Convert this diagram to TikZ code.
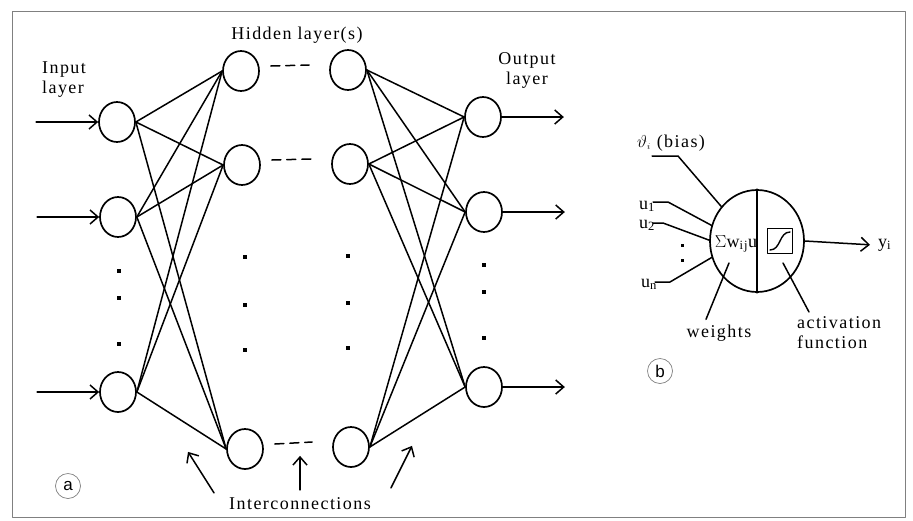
\documentclass[tikz,border=0pt]{standalone}
\usepackage{fontspec}
\setmainfont{Liberation Serif}[LetterSpace=8]
\newfontfamily\tagfont{Liberation Sans}
\usetikzlibrary{arrows.meta,shapes.geometric,calc}
\tikzset{
	unit/.style={draw,ellipse,line width=1.7pt,inner sep=0pt,minimum width=36pt,minimum height=40pt},
	edge/.style={line width=1.5pt},
	lbl/.style={inner sep=0pt,font=\fontsize{18}{20}\selectfont},
	tag/.style={draw=gray,circle,line width=0.7pt,inner sep=0pt,minimum size=25pt,font=\tagfont\fontsize{17}{17}\selectfont},
	hdots/.style={line width=1.5pt,dash pattern=on 9pt off 6pt}
}
\begin{document}
\begin{tikzpicture}[>={Straight Barb[length=8pt,width=14pt]},x=1pt,y=-1pt,line join=round,line cap=round]
		\useasboundingbox (0,0) rectangle (913,520);
		\draw[gray,line width=1pt] (12,11) rectangle (905,517);
		% (a) the network
		\node[unit] (i1) at (117,122) {}; \node[unit] (i2) at (118,217) {}; \node[unit] (i3) at (118,392) {};
		\node[unit] (h1) at (241,71) {}; \node[unit] (h2) at (242,165) {}; \node[unit] (h3) at (245,449) {};
		\node[unit] (k1) at (348,70) {}; \node[unit] (k2) at (350,164) {}; \node[unit] (k3) at (351,447) {};
		\node[unit] (o1) at (483,117) {}; \node[unit] (o2) at (484,212) {}; \node[unit] (o3) at (484,387) {};
		\foreach \i in {1,2,3} \foreach \j in {1,2,3} {
			\draw[edge] (i\i.east) -- (h\j.west);
			\draw[edge] (k\i.east) -- (o\j.west);
		}
		\foreach \n in {1,2,3} {
			\draw[edge,<-] (i\n.west) -- ++(-62,0);
			\draw[edge,->] (o\n.east) -- ++(62,0);
			\draw[hdots] ([shift={(11pt,5pt)}]h\n.east) -- ([shift={(-20pt,5pt)}]k\n.west);
		}
		\foreach \x/\y in {119/271,119/298,119/344,245/257,245/305,245/350,348/256,348/303,348/348,484/265,484/292,484/338}
		\fill (\x-2.2,\y-2.2) rectangle ++(4.4,4.4);
		\node[lbl,anchor=north west,align=left] (inl) at (42,62) {Input\\layer};
		\node[lbl,anchor=base] (hid) at (297,39) {Hidden layer(s)};
		\node[lbl,anchor=north,align=center] (outl) at (527,52) {Output\\layer};
		\node[lbl,anchor=base] (ic) at (300,509) {Interconnections};
		\draw[edge,->] ([shift={(-15pt,4pt)}]ic.north west) -- ++(-26,-41);
		\draw[edge,->] ([yshift=7pt]ic.north) -- ++(0,-34);
		\draw[edge,->] ([shift={(20pt,9pt)}]ic.north east) -- ++(21,-42);
		\node[tag] (ta) at (68,486) {a};
		% (b) one neuron
		\node[draw,ellipse,line width=1.7pt,minimum width=94pt,minimum height=102pt] (n) at (757,241) {};
		\draw[line width=1.5pt] (n.north) -- (n.south);
		\node[lbl,anchor=base] (sum) at (736,247) {$\Sigma$w\textsubscript{ij}u};
		\node[draw,line width=1.4pt,minimum size=25pt,inner sep=0pt] (sg) at (780,241) {};
		\draw[line width=1.4pt] ([shift={(-10pt,-9pt)}]sg.center) .. controls ([shift={(1pt,-9pt)}]sg.center) and ([shift={(-1pt,9pt)}]sg.center) .. ([shift={(10pt,9pt)}]sg.center);
		\node[lbl,anchor=base west] (bias) at (637,147) {$\vartheta_{\scriptscriptstyle i}$ (bias)};
		\node[lbl,anchor=base west] (u1) at (639,209) {u\textsubscript{1}};
		\node[lbl,anchor=base west] (u2) at (639,228) {u\textsubscript{2}};
		\node[lbl,anchor=base west] (un) at (641,287) {u\textsubscript{n}};
		\coordinate (bw) at (652,156); \coordinate (w1) at (653,202);
		\coordinate (w2) at (653,223); \coordinate (wn) at (655,282);
		\draw[edge] (bw) -- (678,156) -- (n.136);
		\draw[edge] (w1) -- (668,202) -- (n.161);
		\draw[edge] (w2) -- (663,223) -- (n.179);
		\draw[edge] (wn) -- (670,282) -- (n.200);
		\fill (680.5,243.5) rectangle ++(3,3); \fill (680.5,258.5) rectangle ++(3,3);
		\node[lbl,anchor=base west] (yi) at (878,247) {y\textsubscript{i}};
		\draw[edge,->] (n.east) -- ([xshift=-8pt]yi.west);
		\node[lbl,anchor=base] (wt) at (719,337) {weights};
		\node[lbl,anchor=north west,align=left] (act) at (797,316) {activation\\function};
		\draw[edge] ([shift={(-13pt,5pt)}]wt.north) -- (729,263);
		\draw[edge] ([shift={(12pt,4pt)}]act.north west) -- (783,263);
		\node[tag] (tb) at (660,371) {b};
\end{tikzpicture}
\end{document}
